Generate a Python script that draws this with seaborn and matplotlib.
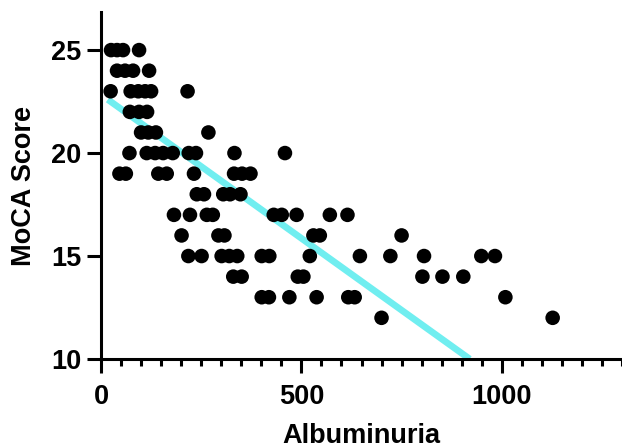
import matplotlib
matplotlib.use('Agg')
import matplotlib.pyplot as plt
from matplotlib.ticker import MultipleLocator
import seaborn as sns
import pandas as pd

# albuminuria values for each MoCA score row
alb_25 = [25, 40, 55, 95]
alb_24 = [40, 60, 80, 120]
alb_23 = [24, 74, 93, 110, 125, 216]
alb_22 = [72, 95, 115]
alb_21 = [100, 118, 137, 268]
alb_20 = [71, 114, 135, 155, 179, 219, 237, 333, 459]
alb_19 = [46, 62, 143, 164, 232, 332, 352, 373]
alb_18 = [239, 257, 305, 322, 348]
alb_17 = [182, 222, 264, 279, 431, 451, 488, 571, 615]
alb_16 = [201, 293, 308, 530, 546, 750]
alb_15 = [218, 251, 301, 320, 340, 401, 420, 521, 646, 722, 806, 949, 983]
alb_14 = [330, 351, 491, 505, 802, 852, 904]
alb_13 = [401, 419, 470, 538, 617, 633, 1009]
alb_12 = [700, 1127]

scores = [25, 24, 23, 22, 21, 20, 19, 18, 17, 16, 15, 14, 13, 12]
rows = [alb_25, alb_24, alb_23, alb_22, alb_21, alb_20, alb_19,
        alb_18, alb_17, alb_16, alb_15, alb_14, alb_13, alb_12]

# regression line end points
fit_x = [17, 920]
fit_y = [22.6, 10.0]

records = []
for sc, vals in zip(scores, rows):
    for v in vals:
        records.append({"Albuminuria": v, "MoCA Score": sc})
df = pd.DataFrame(records)

sns.set_style("ticks")
plt.rcParams['font.family'] = ['Liberation Sans', 'DejaVu Sans']
plt.rcParams['font.weight'] = 'bold'
plt.rcParams['text.color'] = 'black'
plt.rcParams['axes.labelcolor'] = 'black'

fig = plt.figure(figsize=(6.22, 4.48), dpi=100)
ax = fig.add_axes([101 / 622, 1 - 359 / 448, 521 / 622, 347 / 448])

sns.lineplot(x=fit_x, y=fit_y, ax=ax, color="#70eef0", linewidth=4.8,
             zorder=2, solid_capstyle="butt")
sns.scatterplot(data=df, x="Albuminuria", y="MoCA Score", ax=ax, s=110,
                color="black", edgecolor="none", linewidth=0, zorder=3)

ax.set_xlim(0, 1300)
ax.set_ylim(10, 26.85)
ax.set_xticks([0, 500, 1000])
ax.xaxis.set_minor_locator(MultipleLocator(50))
ax.set_yticks([10, 15, 20, 25])

for side in ["top", "right"]:
    ax.spines[side].set_visible(False)
for side in ["left", "bottom"]:
    ax.spines[side].set_linewidth(2.2)
    ax.spines[side].set_color("black")

ax.tick_params(axis="both", which="major", length=10, width=2.2, labelsize=19.5,
               colors="black")
ax.tick_params(axis="x", which="major", pad=8)
ax.tick_params(axis="y", which="major", pad=4)
ax.tick_params(axis="x", which="minor", length=5, width=2.2, colors="black")
for lab in ax.get_xticklabels() + ax.get_yticklabels():
    lab.set_fontweight("bold")

ax.set_xlabel("Albuminuria", fontsize=19.5, fontweight="bold", labelpad=9)
ax.set_ylabel("MoCA Score", fontsize=19.5, fontweight="bold", labelpad=10)

fig.savefig("out.png", dpi=100)
